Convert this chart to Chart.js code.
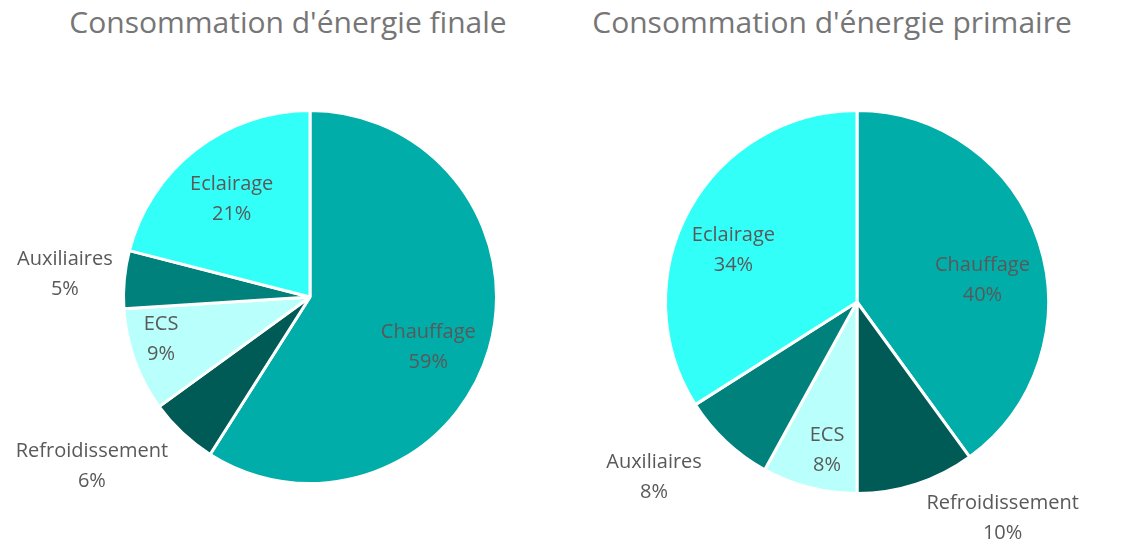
<!DOCTYPE html>
<html>
<head>
<meta charset="utf-8">
<script src="https://cdn.jsdelivr.net/npm/chart.js@4.4.1/dist/chart.umd.min.js"></script>
<style>
  html, body { margin: 0; padding: 0; background: #ffffff; }
  #root { position: relative; width: 1121px; height: 542px; overflow: hidden; }
  .box { position: absolute; top: 0; height: 542px; }
  .title { position: absolute; top: 0px; line-height: 44px; font-family: "Open Sans", sans-serif; font-size: 30px; color: #767676; white-space: nowrap; transform: translateX(-50%); }
</style>
</head>
<body>
<div id="root">
  <div class="title" id="t1" style="left:288px">Consommation d'énergie finale</div>
  <div class="title" id="t2" style="left:832px">Consommation d'énergie primaire</div>
  <div class="box" style="left:0;width:560px"><canvas id="c1" width="560" height="542"></canvas></div>
  <div class="box" style="left:560px;width:561px"><canvas id="c2" width="561" height="542"></canvas></div>
</div>
<script>
const categories = ["Chauffage", "Refroidissement", "ECS", "Auxiliaires", "Eclairage"];
const finalValues = [59, 6, 9, 5, 21];
const primaryValues = [40, 10, 8, 8, 34];
const sliceColors = ["#00ADA8", "#005A55", "#B9FFFC", "#00817C", "#33FFF9"];

// label placement: [radius factor, angle shift in degrees from slice middle]
const finalLabelPlace = [[0.69, 7], [1.48, 9], [0.83, 4], [1.32, 0], [0.67, -1]];
const primaryLabelPlace = [[0.665, 8], [1.36, -16], [0.79, -3], [1.40, 6], [0.70, -6]];

const labelPlugin = {
  id: 'sliceLabels',
  afterDatasetsDraw(chart, args, opts) {
    const ctx = chart.ctx;
    const meta = chart.getDatasetMeta(0);
    const values = chart.data.datasets[0].data;
    const total = values.reduce((a, b) => a + b, 0);
    ctx.save();
    ctx.font = '20px "Open Sans", sans-serif';
    ctx.fillStyle = '#595959';
    ctx.textAlign = 'center';
    ctx.textBaseline = 'middle';
    meta.data.forEach((arc, i) => {
      const p = arc.getProps(['x', 'y', 'startAngle', 'endAngle', 'outerRadius'], true);
      const place = opts.place[i];
      const mid = (p.startAngle + p.endAngle) / 2 + place[1] * Math.PI / 180;
      const r = p.outerRadius * place[0];
      const cx = p.x + Math.cos(mid) * r;
      const cy = p.y + Math.sin(mid) * r;
      const pct = Math.round(values[i] / total * 100) + '%';
      ctx.fillText(chart.data.labels[i], cx, cy - 15);
      ctx.fillText(pct, cx, cy + 15);
    });
    ctx.restore();
  }
};

function makePie(id, values, place, padding) {
  return new Chart(document.getElementById(id), {
    type: 'pie',
    data: {
      labels: categories,
      datasets: [{
        data: values,
        backgroundColor: sliceColors,
        borderColor: '#ffffff',
        borderWidth: 3
      }]
    },
    options: {
      responsive: false,
      animation: false,
      devicePixelRatio: 1,
      layout: { padding: padding },
      plugins: {
        legend: { display: false },
        tooltip: { enabled: false },
        title: { display: false },
        sliceLabels: { place: place }
      }
    },
    plugins: [labelPlugin]
  });
}

makePie('c1', finalValues, finalLabelPlace, { left: 122, right: 62, top: 109, bottom: 57 });
makePie('c2', primaryValues, primaryLabelPlace, { left: 104, right: 71, top: 109, bottom: 47 });
</script>
</body>
</html>
